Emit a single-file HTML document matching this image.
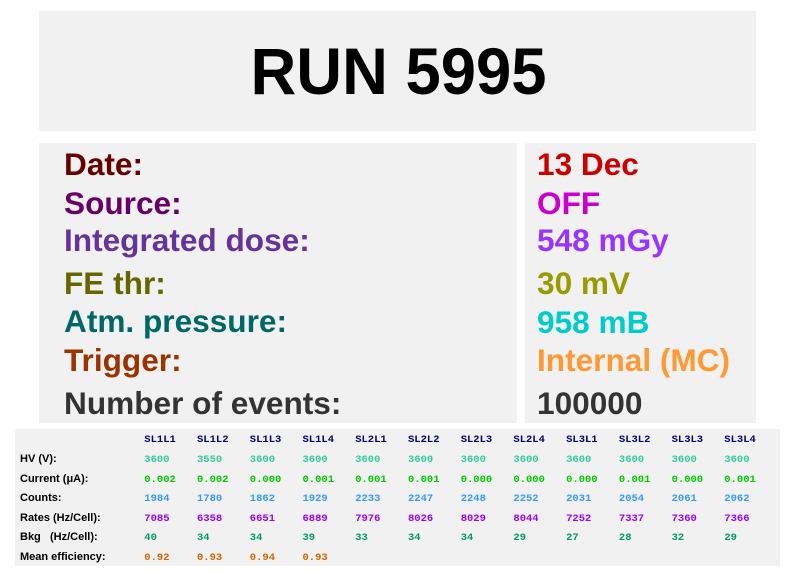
<!DOCTYPE html>
<html><head><meta charset="utf-8"><style>
html,body{margin:0;padding:0;background:#fff;}
svg{display:block;}
.lb{font-family:"Liberation Sans",Arial,sans-serif;font-weight:bold;font-size:31.6px;}
.tl{font-family:"Liberation Sans",Arial,sans-serif;font-weight:bold;font-size:11px;fill:#000;}
.mono{font-family:"Liberation Mono","Courier New",monospace;font-weight:bold;font-size:10.5px;}
</style></head><body>
<svg width="796" height="572" viewBox="0 0 796 572" xmlns="http://www.w3.org/2000/svg">
<rect x="0" y="0" width="796" height="572" fill="#fff"/>
<rect x="39" y="11" width="717" height="120" fill="#f1f1f1"/>
<rect x="39" y="143" width="478" height="280" fill="#f1f1f1"/>
<rect x="525" y="143" width="231" height="280" fill="#f1f1f1"/>
<rect x="15" y="429" width="765" height="137" fill="#f1f1f1"/>

<text x="398.5" y="94" text-anchor="middle" textLength="296" lengthAdjust="spacingAndGlyphs" style="font-family:'Liberation Sans',Arial,sans-serif;font-weight:bold;font-size:66px;fill:#000">RUN 5995</text>

<g class="lb">
<text x="64" y="175" fill="#660000">Date:</text>
<text x="64" y="214" fill="#660066">Source:</text>
<text x="64" y="251" fill="#663399">Integrated dose:</text>
<text x="64" y="294" fill="#666600">FE thr:</text>
<text x="64" y="332" fill="#006666">Atm. pressure:</text>
<text x="64" y="371" fill="#993300">Trigger:</text>
<text x="64" y="414" fill="#333333">Number of events:</text>

<text x="537" y="175" fill="#cc0000">13 Dec</text>
<text x="537" y="214" fill="#cc00cc">OFF</text>
<text x="537" y="251" fill="#9933ff">548 mGy</text>
<text x="537" y="294" fill="#999900">30 mV</text>
<text x="537" y="333" fill="#00cccc">958 mB</text>
<text x="537" y="371" fill="#ff9933">Internal (MC)</text>
<text x="537" y="414" fill="#333333">100000</text>
</g>

<g class="tl">
<text x="20" y="462">HV (V):</text>
<text x="20" y="482">Current (μA):</text>
<text x="20" y="501">Counts:</text>
<text x="20" y="521">Rates (Hz/Cell):</text>
<text x="20" y="540">Bkg</text>
<text x="50" y="540">(Hz/Cell):</text>
<text x="20" y="560">Mean efficiency:</text>
</g>

<g class="mono" fill="#000066">
<text x="144.3" y="442">SL1L1</text>
<text x="197.0" y="442">SL1L2</text>
<text x="249.8" y="442">SL1L3</text>
<text x="302.5" y="442">SL1L4</text>
<text x="355.2" y="442">SL2L1</text>
<text x="408.0" y="442">SL2L2</text>
<text x="460.7" y="442">SL2L3</text>
<text x="513.4" y="442">SL2L4</text>
<text x="566.1" y="442">SL3L1</text>
<text x="618.9" y="442">SL3L2</text>
<text x="671.6" y="442">SL3L3</text>
<text x="724.3" y="442">SL3L4</text>
</g>
<g class="mono" fill="#33cc99">
<text x="144.3" y="462">3600</text>
<text x="197.0" y="462">3550</text>
<text x="249.8" y="462">3600</text>
<text x="302.5" y="462">3600</text>
<text x="355.2" y="462">3600</text>
<text x="408.0" y="462">3600</text>
<text x="460.7" y="462">3600</text>
<text x="513.4" y="462">3600</text>
<text x="566.1" y="462">3600</text>
<text x="618.9" y="462">3600</text>
<text x="671.6" y="462">3600</text>
<text x="724.3" y="462">3600</text>
</g>
<g class="mono" fill="#00cc00">
<text x="144.3" y="482">0.002</text>
<text x="197.0" y="482">0.002</text>
<text x="249.8" y="482">0.000</text>
<text x="302.5" y="482">0.001</text>
<text x="355.2" y="482">0.001</text>
<text x="408.0" y="482">0.001</text>
<text x="460.7" y="482">0.000</text>
<text x="513.4" y="482">0.000</text>
<text x="566.1" y="482">0.000</text>
<text x="618.9" y="482">0.001</text>
<text x="671.6" y="482">0.000</text>
<text x="724.3" y="482">0.001</text>
</g>
<g class="mono" fill="#3399ff">
<text x="144.3" y="501">1984</text>
<text x="197.0" y="501">1780</text>
<text x="249.8" y="501">1862</text>
<text x="302.5" y="501">1929</text>
<text x="355.2" y="501">2233</text>
<text x="408.0" y="501">2247</text>
<text x="460.7" y="501">2248</text>
<text x="513.4" y="501">2252</text>
<text x="566.1" y="501">2031</text>
<text x="618.9" y="501">2054</text>
<text x="671.6" y="501">2061</text>
<text x="724.3" y="501">2062</text>
</g>
<g class="mono" fill="#9900ff">
<text x="144.3" y="521">7085</text>
<text x="197.0" y="521">6358</text>
<text x="249.8" y="521">6651</text>
<text x="302.5" y="521">6889</text>
<text x="355.2" y="521">7976</text>
<text x="408.0" y="521">8026</text>
<text x="460.7" y="521">8029</text>
<text x="513.4" y="521">8044</text>
<text x="566.1" y="521">7252</text>
<text x="618.9" y="521">7337</text>
<text x="671.6" y="521">7360</text>
<text x="724.3" y="521">7366</text>
</g>
<g class="mono" fill="#009966">
<text x="144.3" y="540">40</text>
<text x="197.0" y="540">34</text>
<text x="249.8" y="540">34</text>
<text x="302.5" y="540">39</text>
<text x="355.2" y="540">33</text>
<text x="408.0" y="540">34</text>
<text x="460.7" y="540">34</text>
<text x="513.4" y="540">29</text>
<text x="566.1" y="540">27</text>
<text x="618.9" y="540">28</text>
<text x="671.6" y="540">32</text>
<text x="724.3" y="540">29</text>
</g>
<g class="mono" fill="#cc6600">
<text x="144.3" y="560">0.92</text>
<text x="197.0" y="560">0.93</text>
<text x="249.8" y="560">0.94</text>
<text x="302.5" y="560">0.93</text>
</g>
</svg>
</body></html>
